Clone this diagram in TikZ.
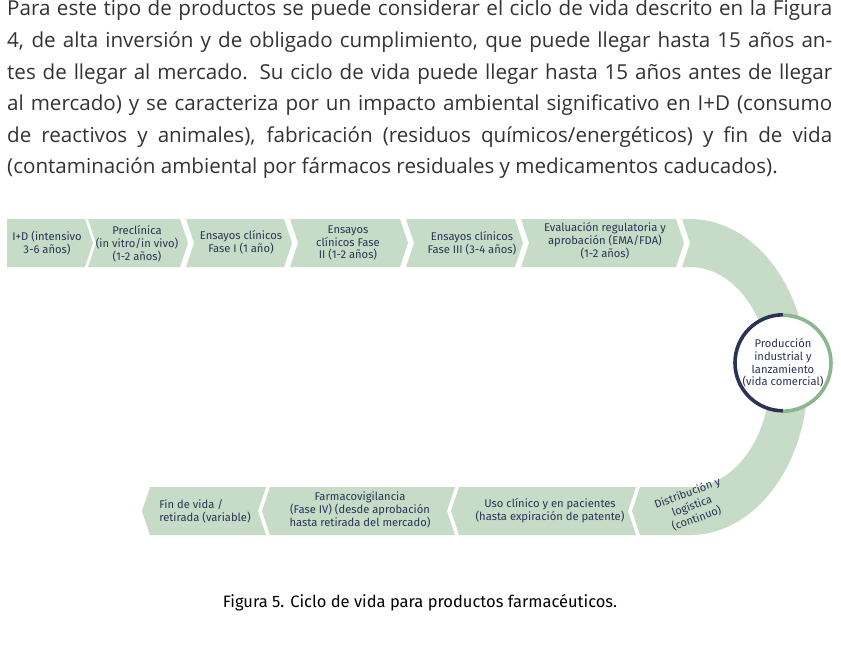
\documentclass[tikz,border=0pt]{standalone}
\usepackage{fontspec}
\setmainfont{Fira Sans}
\newfontfamily\bodyf{Open Sans}
\begin{document}
\begin{tikzpicture}[x=1pt,y=-1pt,
  band/.style={fill=bandc},
  lbl/.style={text=navy,font=\fontsize{11.2}{12.8}\selectfont,align=center,inner sep=0pt}]
\definecolor{bandc}{HTML}{C6DCC7}
\definecolor{navy}{HTML}{2B3256}
\definecolor{ringg}{HTML}{8DB58F}
\useasboundingbox[fill=white] (0,0) rectangle (841,646);
\node[anchor=north west,inner sep=0pt,text width=825pt,align=justify,text=black!80,
  font=\bodyf\fontsize{20.6}{31.6}\selectfont] (body) at (7,0)
 {Para este tipo de productos se puede considerar el ciclo de vida descrito en la Figura\linebreak 4, de alta inversión y de obligado cumplimiento, que puede llegar hasta 15 años an-\linebreak tes de llegar al mercado. Su ciclo de vida puede llegar hasta 15 años antes de llegar\linebreak al mercado) y se caracteriza por un impacto ambiental significativo en I+D (consumo\linebreak de reactivos y animales), fabricación (residuos químicos/energéticos) y fin de vida\linebreak (contaminación ambiental por fármacos residuales y medicamentos caducados).};
% top chevrons
\fill[band] (7,219)--(85,219)--(93,243)--(85,267)--(7,267)--cycle;
\foreach \a/\b in {88/180,186/284,290/400,406/515,521/676}
  \fill[band] (\a,219)--(\b,219)--(\b+8,243)--(\b,267)--(\a,267)--(\a+8,243)--cycle;
% band
\fill[band] (682,219)--(690,219) arc[start angle=-90,end angle=90,x radius=118,y radius=158]
  --(640,535)--(632,511)--(640,487)--(690,487)
  arc[start angle=90,end angle=-90,x radius=80,y radius=110]--(682,267)--(690,243)--cycle;
% bottom chevrons
\foreach \a/\b in {142/266,262/455,451/636}
  \fill[band] (\a,511)--(\a+8,487)--(\b,487)--(\b-8,511)--(\b,535)--(\a+8,535)--cycle;
% labels
\node[lbl] (n1) at (47,243) {I+D (intensivo\\3-6 años)};
\node[lbl] (n2) at (137,244) {Preclínica\\(in vitro/in vivo)\\(1-2 años)};
\node[lbl] (n3) at (241,242) {Ensayos clínicos\\Fase I (1 año)};
\node[lbl] (n4) at (348,243) {Ensayos\\clínicos Fase\\II (1-2 años)};
\node[lbl] (n5) at (472,243) {Ensayos clínicos\\Fase III (3-4 años)};
\node[lbl] (n6) at (605,241) {Evaluación regulatoria y\\aprobación (EMA/FDA)\\(1-2 años)};
\node[circle,minimum size=96pt,fill=white,inner sep=0pt] (c) at (783,363) {};
\draw[navy,line width=3.6pt] (c.north) arc[start angle=-90,end angle=-270,radius=48];
\draw[ringg,line width=3.6pt] (c.south) arc[start angle=90,end angle=-90,radius=48];
\node[lbl] (n7) at (783,363) {Producción\\industrial y\\lanzamiento\\(vida comercial)};
\node[lbl,rotate=20,font=\fontsize{11}{13.5}\selectfont] (n8) at (692,506) {Distribución y\\logística\\(continuo)};
\node[lbl] (n9) at (550,511) {Uso clínico y en pacientes\\(hasta expiración de patente)};
\node[lbl] (n10) at (360,510) {Farmacovigilancia\\(Fase IV) (desde aprobación\\hasta retirada del mercado)};
\node[lbl,align=left] (n11) at (205,511) {Fin de vida /\\retirada (variable)};
\node[inner sep=0pt,font=\fontsize{16.5}{19}\selectfont] (cap) at (420,603) {Figura 5. Ciclo de vida para productos farmacéuticos.};
\end{tikzpicture}
\end{document}
